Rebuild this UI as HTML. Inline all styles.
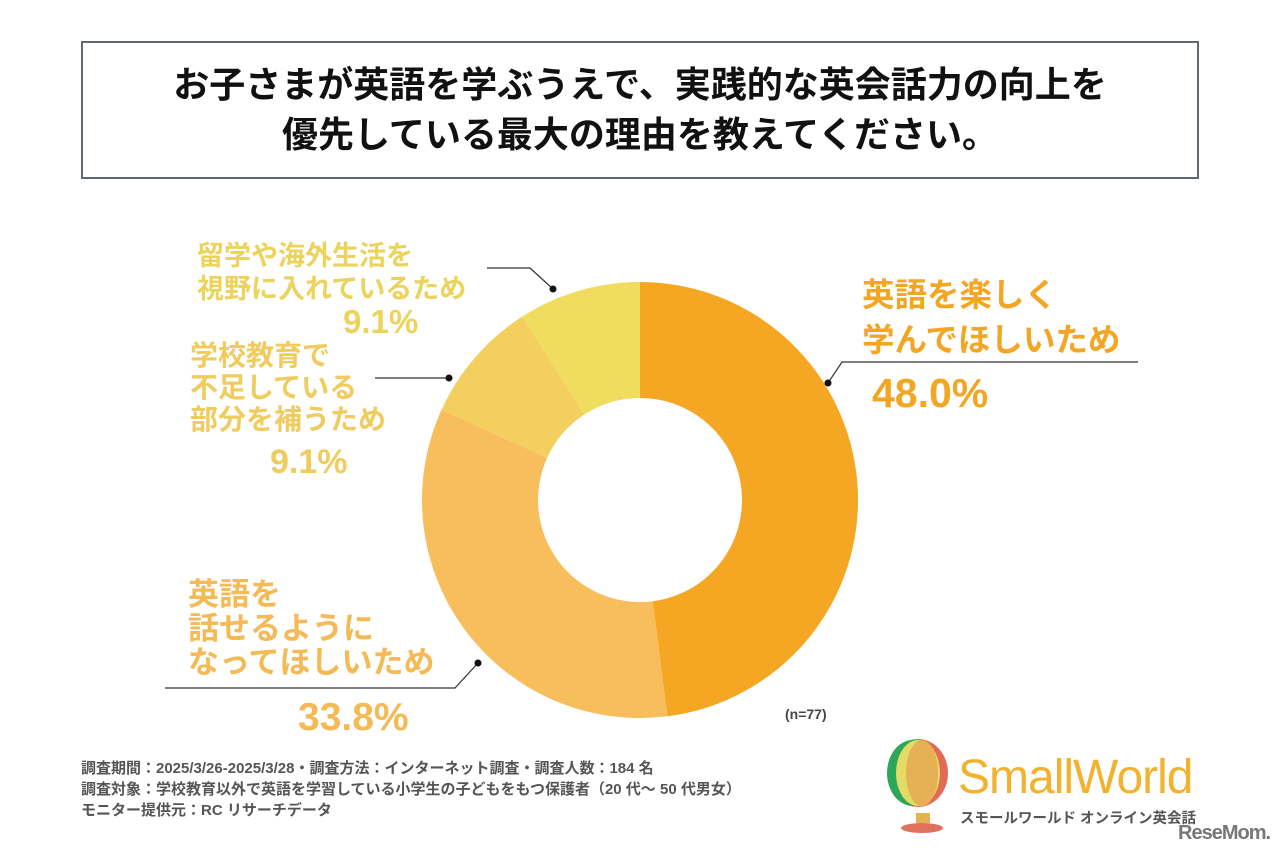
<!DOCTYPE html>
<html><head><meta charset="utf-8">
<style>
body{margin:0;width:1280px;height:853px;background:#fff;font-family:"Liberation Sans","Noto Sans CJK JP",sans-serif;position:relative;overflow:hidden}
.abs{position:absolute;white-space:nowrap}
.title{left:81px;top:41px;border:2px solid #5f6a72;text-align:center;font-weight:bold;font-size:36px;line-height:50px;color:#111;padding-top:17px;box-sizing:border-box;height:138px;width:1118px}
.lab{font-weight:bold;font-size:27px;line-height:32px}
.pct{font-weight:bold;font-size:34px}
.foot{left:81px;top:758px;font-size:15px;line-height:21px;color:#555;font-weight:bold}
</style></head><body>
<div class="abs title">お子さまが英語を学ぶうえで、実践的な英会話力の向上を<br>優先している最大の理由を教えてください。</div>

<svg class="abs" style="left:0;top:0" width="1280" height="853">
<g id="slices"></g>
<g stroke="#333" stroke-width="1.2" fill="none">
<polyline points="1138,362 842,362 828,383"/>
<polyline points="487,268 530,268 553,289"/>
<polyline points="375,378 449,378"/>
<polyline points="165,688 455,688 478,663"/>
</g>
<g fill="#111">
<circle cx="828" cy="383" r="3.5"/><circle cx="553" cy="289" r="3.5"/><circle cx="449" cy="378" r="3.5"/><circle cx="478" cy="663" r="3.5"/>
</g>
</svg>

<div class="abs lab" style="left:862px;top:273px;color:#F3A624;font-size:32.5px;line-height:45px">英語を楽しく<br>学んでほしいため</div>
<div class="abs pct" style="left:872px;top:370px;color:#F3A624;font-size:41px">48.0%</div>

<div class="abs lab" style="left:197px;top:240px;color:#EBD35C;line-height:33px">留学や海外生活を<br>視野に入れているため</div>
<div class="abs pct" style="left:343px;top:303px;color:#EBD35C;font-size:33px">9.1%</div>

<div class="abs lab" style="left:190px;top:340px;color:#F0CB5E;font-size:28px">学校教育で<br>不足している<br>部分を補うため</div>
<div class="abs pct" style="left:270px;top:443px;color:#F0CB5E;font-size:34px">9.1%</div>

<div class="abs lab" style="left:188px;top:578px;color:#F5B955;font-size:31px;line-height:34px">英語を<br>話せるように<br>なってほしいため</div>
<div class="abs pct" style="left:298px;top:696px;color:#F5B955;font-size:39px">33.8%</div>

<div class="abs" style="left:785px;top:706px;font-size:14px;color:#444;font-weight:bold">(n=77)</div>

<div class="abs foot">調査期間：2025/3/26-2025/3/28・調査方法：インターネット調査・調査人数：184 名<br>調査対象：学校教育以外で英語を学習している小学生の子どもをもつ保護者（20 代～ 50 代男女）<br>モニター提供元：RC リサーチデータ</div>

<svg class="abs" style="left:880px;top:735px" width="80" height="100">
<ellipse cx="38" cy="38" rx="30" ry="34" fill="#E36A55"/>
<ellipse cx="33" cy="38" rx="26" ry="33" fill="#2DA65A"/>
<ellipse cx="38" cy="38" rx="22" ry="33" fill="#E2DB64"/>
<ellipse cx="42" cy="38" rx="16" ry="33" fill="#E6B055"/>
<rect x="36" y="78" width="14" height="10" fill="#E6B055"/>
<ellipse cx="42" cy="93" rx="21" ry="5" fill="#E07060"/>
</svg>
<div class="abs" style="left:958px;top:750px;font-size:48px;color:#F2B22D;line-height:56px;letter-spacing:-1px">SmallWorld</div>
<div class="abs" style="left:960px;top:807px;font-size:14.5px;font-weight:bold;color:#555">スモールワールド オンライン英会話</div>
<div class="abs" style="left:1178px;top:822px;font-size:20px;font-weight:bold;color:#777;letter-spacing:-1px">ReseMom.</div>

<script>
const categories=["英語を楽しく学んでほしいため","英語を話せるようになってほしいため","学校教育で不足している部分を補うため","留学や海外生活を視野に入れているため"];
const values=[48.0,33.8,9.1,9.1];
const colors=["#F5A623","#F7BE5B","#F3CF5F","#F0DC5E"];
const cx=640,cy=500,R=218,r=102;
const g=document.getElementById('slices');
const total=values.reduce((a,b)=>a+b,0);
let a0=0;
function pt(rad,a){return [cx+rad*Math.sin(a),cy-rad*Math.cos(a)];}
values.forEach((v,i)=>{
  const a1=a0+v/total*2*Math.PI;
  const large=(a1-a0)>Math.PI?1:0;
  const [x0,y0]=pt(R,a0),[x1,y1]=pt(R,a1),[x2,y2]=pt(r,a1),[x3,y3]=pt(r,a0);
  const p=document.createElementNS('http://www.w3.org/2000/svg','path');
  p.setAttribute('d',`M${x0},${y0}A${R},${R} 0 ${large} 1 ${x1},${y1}L${x2},${y2}A${r},${r} 0 ${large} 0 ${x3},${y3}Z`);
  p.setAttribute('fill',colors[i]);
  
  
  g.appendChild(p);
  a0=a1;
});
</script>
</body></html>
